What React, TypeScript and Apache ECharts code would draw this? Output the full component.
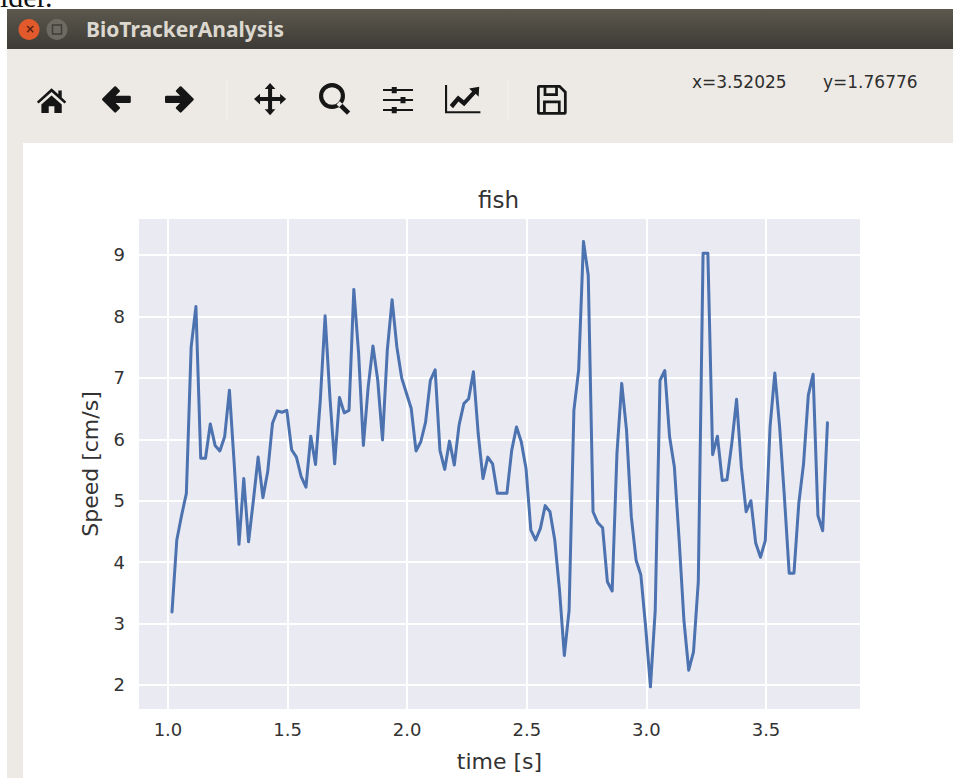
import React, { useEffect, useRef } from "react";
import * as echarts from "echarts";

const times = [
  1.017, 1.037, 1.057, 1.077, 1.097, 1.117, 1.137, 1.157, 1.177, 1.197,
  1.217, 1.237, 1.257, 1.277, 1.297, 1.317, 1.337, 1.357, 1.377, 1.397,
  1.417, 1.437, 1.457, 1.477, 1.497, 1.517, 1.537, 1.557, 1.577, 1.597,
  1.617, 1.637, 1.657, 1.677, 1.697, 1.717, 1.737, 1.757, 1.777, 1.797,
  1.817, 1.837, 1.857, 1.877, 1.897, 1.917, 1.937, 1.957, 1.977, 1.997,
  2.017, 2.037, 2.057, 2.077, 2.097, 2.117, 2.137, 2.157, 2.177, 2.197,
  2.217, 2.237, 2.257, 2.277, 2.297, 2.317, 2.337, 2.357, 2.377, 2.397,
  2.417, 2.437, 2.457, 2.477, 2.497, 2.517, 2.537, 2.557, 2.577, 2.597,
  2.617, 2.637, 2.657, 2.677, 2.697, 2.717, 2.737, 2.757, 2.777, 2.797,
  2.817, 2.837, 2.857, 2.877, 2.897, 2.917, 2.937, 2.957, 2.977, 2.997,
  3.017, 3.037, 3.057, 3.077, 3.097, 3.117, 3.137, 3.157, 3.177, 3.197,
  3.217, 3.237, 3.257, 3.277, 3.297, 3.317, 3.337, 3.357, 3.377, 3.397,
  3.417, 3.437, 3.457, 3.477, 3.497, 3.517, 3.537, 3.557, 3.577, 3.597,
  3.617, 3.637, 3.657, 3.677, 3.697, 3.717, 3.737, 3.757,
];

const speeds = [
  3.19, 4.36, 4.76, 5.12, 7.5, 8.16, 5.69, 5.69, 6.25, 5.9,
  5.81, 6.04, 6.8, 5.6, 4.29, 5.36, 4.33, 5.0, 5.71, 5.05,
  5.47, 6.26, 6.46, 6.44, 6.47, 5.83, 5.71, 5.39, 5.22, 6.05,
  5.59, 6.64, 8.01, 6.69, 5.6, 6.68, 6.43, 6.47, 8.44, 7.4,
  5.9, 6.85, 7.52, 6.96, 5.99, 7.45, 8.27, 7.5, 7.0, 6.75,
  6.5, 5.81, 5.96, 6.28, 6.96, 7.13, 5.82, 5.51, 5.97, 5.58,
  6.23, 6.58, 6.66, 7.1, 6.09, 5.36, 5.71, 5.6, 5.12, 5.12,
  5.12, 5.82, 6.2, 5.96, 5.52, 4.52, 4.36, 4.55, 4.92, 4.82,
  4.36, 3.54, 2.48, 3.22, 6.47, 7.13, 9.22, 8.67, 4.82, 4.64,
  4.56, 3.68, 3.53, 5.77, 6.91, 6.15, 4.74, 4.03, 3.79, 2.94,
  1.97, 3.22, 6.96, 7.12, 6.04, 5.55, 4.36, 3.05, 2.24, 2.54,
  3.68, 9.03, 9.03, 5.75, 6.05, 5.33, 5.34, 5.93, 6.65, 5.55,
  4.82, 5.0, 4.31, 4.08, 4.35, 6.2, 7.08, 6.2, 5.06, 3.82,
  3.82, 4.95, 5.6, 6.72, 7.06, 4.76, 4.51, 6.27,
];

const chartTitle = "fish";
const xAxisName = "time [s]";
const yAxisName = "Speed [cm/s]";
const windowTitle = "BioTrackerAnalysis";
const cursorX = "x=3.52025";
const cursorY = "y=1.76776";
const clippedText = "ider.";

const ink = "#161616";
const textInk = "#333333";

echarts.graphic.registerShape("iconHome", echarts.graphic.extendPath("M12 1 L18 6.5 L18 3 L21 3 L21 9.3 L25 13 L23.5 14.5 L12 4.5 L0.5 14.5 L-1 13 Z M12 7.5 L21 15.5 L21 23 L14.5 23 L14.5 17 L9.5 17 L9.5 23 L3 23 L3 15.5 Z", {}));
echarts.graphic.registerShape("iconBack", echarts.graphic.extendPath("M1 12 L11 2 L14 5 L9 10 L23 10 L23 14 L9 14 L14 19 L11 22 Z", {}));
echarts.graphic.registerShape("iconForward", echarts.graphic.extendPath("M23 12 L13 2 L10 5 L15 10 L1 10 L1 14 L15 14 L10 19 L13 22 Z", {}));
echarts.graphic.registerShape("iconMove", echarts.graphic.extendPath("M12 0 L16 4.5 L13.5 4.5 L13.5 10.5 L19.5 10.5 L19.5 8 L24 12 L19.5 16 L19.5 13.5 L13.5 13.5 L13.5 19.5 L16 19.5 L12 24 L8 19.5 L10.5 19.5 L10.5 13.5 L4.5 13.5 L4.5 16 L0 12 L4.5 8 L4.5 10.5 L10.5 10.5 L10.5 4.5 L8 4.5 Z", {}));
echarts.graphic.registerShape("iconSearch", echarts.graphic.extendPath("M10 0 A10 10 0 1 0 10 20 A10 10 0 1 0 10 0 Z M10 3.2 A6.8 6.8 0 1 1 10 16.8 A6.8 6.8 0 1 1 10 3.2 Z M16 14 L24 22 L21.5 24.5 L13.5 16.5 Z", {}));
echarts.graphic.registerShape("iconSliders", echarts.graphic.extendPath("M0 3.2 L7 3.2 L7 1.5 L11 1.5 L11 3.2 L24 3.2 L24 4.8 L11 4.8 L11 6.5 L7 6.5 L7 4.8 L0 4.8 Z M0 11.2 L14 11.2 L14 9.5 L18 9.5 L18 11.2 L24 11.2 L24 12.8 L18 12.8 L18 14.5 L14 14.5 L14 12.8 L0 12.8 Z M0 19.2 L7 19.2 L7 17.5 L11 17.5 L11 19.2 L24 19.2 L24 20.8 L11 20.8 L11 22.5 L7 22.5 L7 20.8 L0 20.8 Z", {}));
echarts.graphic.registerShape("iconChart", echarts.graphic.extendPath("M0 0 L1.8 0 L1.8 22.2 L30 22.2 L30 24 L0 24 Z M4 17 L11 9 L16 13 L23 5.5 L20.5 3 L29 1.5 L28.5 10 L26 7.5 L16.3 18 L11.4 14 L6.8 19.8 Z", {}));
echarts.graphic.registerShape("iconSave", echarts.graphic.extendPath("M2 0 L21 0 L27 6 L27 25 Q27 27 25 27 L2 27 Q0 27 0 25 L0 2 Q0 0 2 0 Z M2.5 2.5 L2.5 24.5 L5.5 24.5 L5.5 14 L21.5 14 L21.5 24.5 L24.5 24.5 L24.5 7 L20 2.5 L19 2.5 L19 10 L6 10 L6 2.5 Z M8.5 2.5 L8.5 7.5 L16.5 7.5 L16.5 2.5 Z M8 16.5 L8 24.5 L19 24.5 L19 16.5 Z", {}));

function icon(type: string, x: number, y: number, scale: number, round = 0) {
  return {
    type, x, y, scaleX: scale, scaleY: scale,
    style: { fill: ink, stroke: round ? ink : "none", lineWidth: round, lineJoin: "round" },
  };
}

export default function App() {
  const ref = useRef<HTMLDivElement>(null);

  useEffect(() => {
    document.body.style.margin = "0";
    const chart = echarts.init(ref.current!, undefined, { renderer: "svg" });
    chart.setOption({
      animation: false,
      backgroundColor: "#ffffff",
      textStyle: { fontFamily: "DejaVu Sans" },
      title: {
        text: chartTitle,
        left: 473,
        top: 183,
        textStyle: { fontFamily: "DejaVu Sans", fontSize: 23, fontWeight: "normal", color: textInk },
      },
      grid: {
        left: 139, top: 219, width: 721, height: 490,
        backgroundColor: "#eaeaf2", show: true, borderWidth: 0,
      },
      xAxis: {
        type: "value", min: 0.879, max: 3.893, splitNumber: 6,
        axisLine: { show: false }, axisTick: { show: false },
        splitLine: { show: true, showMinLine: false, showMaxLine: false, lineStyle: { color: "#ffffff", width: 2 } },
        axisLabel: {
          showMinLabel: false, showMaxLabel: false, margin: 11,
          fontFamily: "DejaVu Sans", fontSize: 18, color: textInk,
          formatter: (v: number) => v.toFixed(1),
        },
        name: xAxisName, nameLocation: "middle", nameGap: 41,
        nameTextStyle: { fontFamily: "DejaVu Sans", fontSize: 22, color: textInk },
      },
      yAxis: {
        type: "value", min: 1.609, max: 9.586, splitNumber: 8,
        axisLine: { show: false }, axisTick: { show: false },
        splitLine: { show: true, showMinLine: false, showMaxLine: false, lineStyle: { color: "#ffffff", width: 2 } },
        axisLabel: {
          showMinLabel: false, showMaxLabel: false, margin: 14,
          fontFamily: "DejaVu Sans", fontSize: 18, color: textInk,
          formatter: (v: number) => String(Math.round(v)),
        },
        name: yAxisName, nameLocation: "middle", nameGap: 38,
        nameTextStyle: { fontFamily: "DejaVu Sans", fontSize: 22, color: textInk },
      },
      series: [{
        type: "line",
        data: times.map((t, i) => [t, speeds[i]]),
        showSymbol: false,
        smooth: false,
        lineStyle: { color: "#4c72b0", width: 3, join: "round", cap: "round" },
      }],
      graphic: [
        { type: "rect", z: -10, shape: { x: 7, y: 49, width: 946, height: 729 }, style: { fill: "#edeae5" } },
        { type: "rect", z: -9, shape: { x: 23, y: 143, width: 930, height: 635 }, style: { fill: "#ffffff" } },
        {
          type: "rect", z: -9, shape: { x: 7, y: 9, width: 946, height: 40 },
          style: {
            fill: {
              type: "linear", x: 0, y: 0, x2: 0, y2: 1,
              colorStops: [{ offset: 0, color: "#5c584e" }, { offset: 1, color: "#3d3b35" }],
            },
          },
        },
        { type: "text", x: 0, y: -19, style: { text: clippedText, fontFamily: "Liberation Serif", fontSize: 30, fill: "#111111" } },
        { type: "circle", shape: { cx: 29, cy: 29.5, r: 10.5 }, style: { fill: "#e25a2b" } },
        { type: "text", x: 25, y: 22.5, style: { text: "×", fontFamily: "DejaVu Sans", fontSize: 12, fontWeight: "bold", fill: "#5a2310" } },
        { type: "circle", shape: { cx: 57, cy: 29.5, r: 10.5 }, style: { fill: "#6d6a62" } },
        { type: "rect", shape: { x: 52.5, y: 25, width: 9, height: 9 }, style: { fill: "none", stroke: "#403e38", lineWidth: 1.5 } },
        { type: "text", x: 86, y: 18, style: { text: windowTitle, fontFamily: "Noto Sans", fontSize: 21, fontWeight: "bold", fill: "#dcd8cf" } },
        icon("iconHome", 38, 87, 1.13),
        icon("iconBack", 102, 85, 1.2, 2),
        icon("iconForward", 165, 85, 1.2, 2),
        icon("iconMove", 254, 83, 1.34),
        icon("iconSearch", 319, 83, 1.3),
        icon("iconSliders", 383, 85, 1.25),
        icon("iconChart", 445, 85, 1.18),
        icon("iconSave", 537, 85, 1.1),
        { type: "line", shape: { x1: 227, y1: 80, x2: 227, y2: 120 }, style: { stroke: "#f6f4f1", lineWidth: 1 } },
        { type: "line", shape: { x1: 508, y1: 80, x2: 508, y2: 120 }, style: { stroke: "#f6f4f1", lineWidth: 1 } },
        { type: "text", x: 692, y: 73, style: { text: cursorX, fontFamily: "DejaVu Sans", fontSize: 17, fill: "#2e2e2e" } },
        { type: "text", x: 823, y: 73, style: { text: cursorY, fontFamily: "DejaVu Sans", fontSize: 17, fill: "#2e2e2e" } },
      ],
    });
    return () => chart.dispose();
  }, []);

  return <div ref={ref} style={{ width: 953, height: 778 }} />;
}
